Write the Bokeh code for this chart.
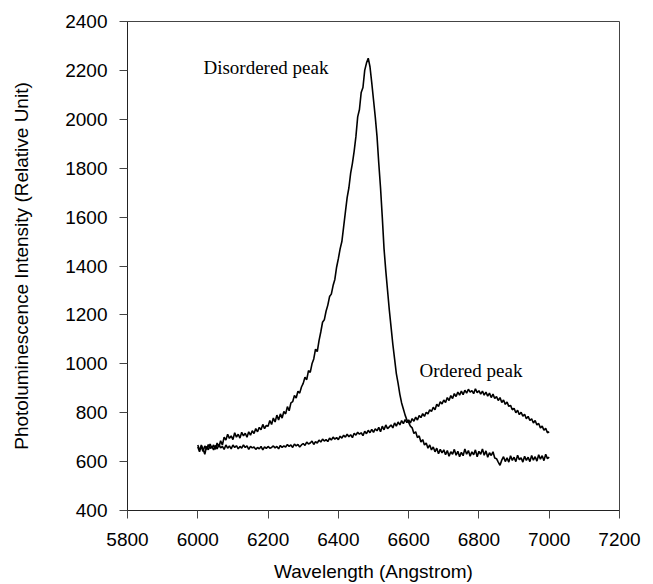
from bokeh.plotting import figure
from bokeh.models import ColumnDataSource, Range1d, FixedTicker
from bokeh.core.properties import value
from bokeh.embed import file_html
from bokeh.resources import INLINE

# Wavelength grid (Angstrom), 5 A steps
wavelength = list(range(6000, 7001, 5))

disordered = [
    660, 640, 668, 652, 630, 662, 648, 672, 655, 668,
    650, 676, 660, 685, 668, 700, 688, 712, 695, 705,
    690, 718, 700, 712, 696, 720, 705, 716, 700, 722,
    708, 726, 715, 735, 722, 740, 730, 752, 735, 748,
    745, 768, 752, 778, 762, 790, 770, 795, 778, 805,
    795, 825, 808, 840, 845, 870, 860, 888, 880, 905,
    920, 945, 935, 972, 965, 1000, 1020, 1060, 1050, 1095,
    1130, 1170, 1180, 1215, 1240, 1275, 1285, 1320, 1345, 1395,
    1430, 1470, 1500, 1560, 1620, 1680, 1720, 1780, 1820, 1870,
    1930, 2010, 2040, 2110, 2130, 2200, 2230, 2250, 2215, 2150,
    2080, 2010, 1930, 1820, 1720, 1600, 1470, 1380, 1300, 1220,
    1150, 1080, 1020, 960, 920, 875, 840, 815, 790, 770,
    760, 745, 738, 715, 722, 698, 705, 680, 690, 668,
    676, 655, 668, 648, 660, 640, 655, 632, 650, 636,
    648, 628, 645, 622, 640, 630, 650, 626, 642, 620,
    638, 624, 652, 630, 645, 622, 640, 628, 648, 620,
    642, 630, 652, 626, 644, 618, 636, 625, 640, 615,
    612, 598, 585, 606, 620, 600, 615, 598, 624, 605,
    618, 600, 626, 608, 615, 598, 622, 605, 618, 600,
    625, 606, 620, 602, 628, 610, 624, 604, 630, 612,
    618,
]

ordered = [
    668, 648, 660, 642, 664, 650, 670, 654, 662, 648,
    666, 652, 670, 656, 662, 650, 668, 655, 664, 652,
    668, 658, 665, 652, 662, 655, 668, 658, 664, 650,
    662, 656, 660, 650, 658, 652, 662, 648, 660, 654,
    662, 655, 658, 664, 656, 662, 652, 666, 658, 664,
    660, 670, 662, 668, 658, 672, 664, 670, 660, 668,
    674, 666, 680, 672, 676, 684, 670, 682, 676, 688,
    680, 692, 684, 690, 682, 696, 688, 700, 692, 698,
    690, 704, 696, 708, 700, 712, 702, 710, 698, 716,
    708, 720, 712, 718, 706, 724, 714, 728, 718, 732,
    720, 734, 726, 740, 722, 745, 730, 750, 735, 742,
    750, 738, 758, 745, 762, 750, 768, 755, 772, 760,
    770, 758, 776, 765, 782, 770, 788, 780, 796, 785,
    802, 795, 812, 805, 822, 812, 835, 825, 845, 836,
    852, 842, 862, 850, 870, 858, 878, 866, 884, 872,
    888, 874, 892, 880, 896, 884, 890, 878, 898, 882,
    890, 876, 888, 872, 884, 868, 880, 862, 876, 858,
    866, 850, 862, 842, 852, 834, 844, 826, 830, 812,
    818, 800, 810, 792, 802, 786, 794, 775, 785, 768,
    775, 758, 768, 750, 756, 738, 745, 728, 736, 718,
    722,
]

x_ticks = [5800, 6000, 6200, 6400, 6600, 6800, 7000, 7200]
y_ticks = [400, 600, 800, 1000, 1200, 1400, 1600, 1800, 2000, 2200, 2400]

labels_text = ["Disordered peak", "Ordered peak"]
labels_x = [6016, 6631]
labels_y = [2212, 973]

src = ColumnDataSource(dict(x=wavelength, d=disordered, o=ordered))

p = figure(width=653, height=584, output_backend="svg", toolbar_location=None,
           x_range=Range1d(5800, 7200), y_range=Range1d(400, 2400),
           min_border_left=127, min_border_right=34, min_border_top=21,
           min_border_bottom=74)

p.line("x", "d", source=src, line_color="black", line_width=1.6)
p.line("x", "o", source=src, line_color="black", line_width=1.6)

p.text(x=labels_x, y=labels_y, text=labels_text, text_font=value("Liberation Serif"),
       text_font_size="19px", text_color="black", text_baseline="middle", text_align="left")

p.xgrid.visible = False
p.ygrid.visible = False
p.background_fill_color = "white"
p.border_fill_color = "white"
p.outline_line_color = "#444444"
p.outline_line_width = 1

for ax in (p.xaxis[0], p.yaxis[0]):
    ax.major_label_text_font = "Liberation Sans"
    ax.major_label_text_font_size = "19px"
    ax.major_label_text_color = "black"
    ax.axis_label_text_font = "Liberation Sans"
    ax.axis_label_text_font_style = "normal"
    ax.axis_label_text_color = "black"
    ax.axis_line_color = "#222222"
    ax.major_tick_line_color = "#444444"
    ax.major_tick_in = 0
    ax.major_tick_out = 8
    ax.minor_tick_line_color = None

p.xaxis.major_label_standoff = 14
p.yaxis.major_label_standoff = 12
p.xaxis.ticker = FixedTicker(ticks=x_ticks)
p.yaxis.ticker = FixedTicker(ticks=y_ticks)
p.xaxis.axis_label = "Wavelength (Angstrom)"
p.yaxis.axis_label = "Photoluminescence Intensity (Relative Unit)"
p.xaxis.axis_label_text_font_size = "19px"
p.yaxis.axis_label_text_font_size = "19px"
p.xaxis.axis_label_standoff = 12
p.yaxis.axis_label_standoff = 30

open("out.html", "w").write(file_html(p, INLINE))
